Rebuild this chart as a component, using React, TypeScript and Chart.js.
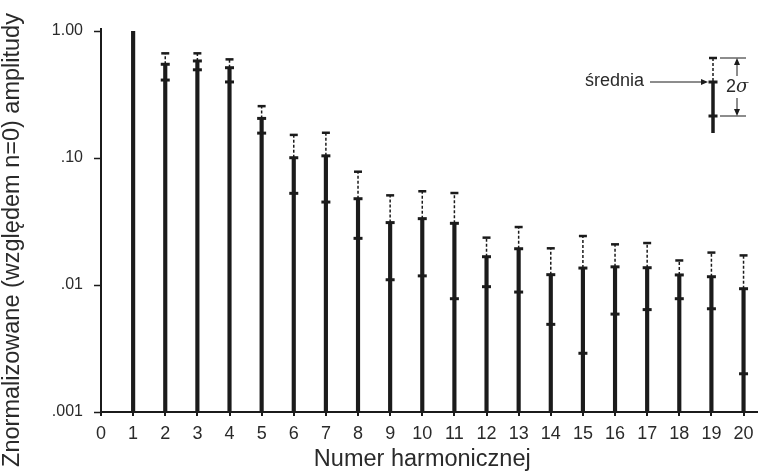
import React, { useEffect, useRef } from 'react';
import { Chart, registerables } from 'chart.js';

Chart.register(...registerables);

// ---- data ----
const harmonics = [1, 2, 3, 4, 5, 6, 7, 8, 9, 10, 11, 12, 13, 14, 15, 16, 17, 18, 19, 20];
const means = [1.0, 0.547, 0.581, 0.514, 0.205, 0.1005, 0.104, 0.0478, 0.031, 0.0333, 0.0306, 0.0167, 0.0193, 0.01206, 0.0136, 0.0139, 0.01368, 0.012, 0.01162, 0.00935];
const upper = [null, 0.667, 0.667, 0.598, 0.256, 0.152, 0.158, 0.078, 0.0508, 0.0547, 0.053, 0.0236, 0.0286, 0.01945, 0.0243, 0.0209, 0.0214, 0.0156, 0.018, 0.0171];
const lower = [null, 0.411, 0.495, 0.397, 0.157, 0.0527, 0.045, 0.0233, 0.011, 0.0118, 0.0078, 0.0097, 0.0088, 0.0049, 0.0029, 0.0059, 0.0064, 0.0078, 0.0065, 0.002];

const xTickValues = [0, 1, 2, 3, 4, 5, 6, 7, 8, 9, 10, 11, 12, 13, 14, 15, 16, 17, 18, 19, 20];
const yTickValues = [0.001, 0.01, 0.1, 1];
const yTickLabels = ['.001', '.01', '.10', '1.00'];

const xTitle = 'Numer harmonicznej';
const yTitle = 'Znormalizowane (względem n=0) amplitudy';
const legendMeanLabel = 'średnia';
const legendSigmaDigit = '2';
const legendSigmaSymbol = 'σ';

const INK = '#1b1b1b';
const TEXT = '#2a2a2a';
const FONT = "'Liberation Sans', Arial, Helvetica, sans-serif";

const withSigma = harmonics.map((h, i) => i).filter((i) => upper[i] != null);

const annotationPlugin = {
  id: 'annotations',
  afterDraw(chart: any) {
    const ctx = chart.ctx as CanvasRenderingContext2D;
    const xs = chart.scales.x;
    const ys = chart.scales.y;
    const area = chart.chartArea;
    ctx.save();

    // y axis line and tick marks
    ctx.strokeStyle = INK;
    ctx.lineWidth = 2;
    ctx.beginPath();
    ctx.moveTo(area.left, area.top - 3);
    ctx.lineTo(area.left, area.bottom);
    ctx.stroke();
    ctx.lineWidth = 1.5;
    ctx.beginPath();
    yTickValues.forEach((v) => {
      const py = Math.round(ys.getPixelForValue(v)) + 0.5;
      ctx.moveTo(area.left - 7, py);
      ctx.lineTo(area.left, py);
    });
    ctx.stroke();

    // axis titles
    ctx.fillStyle = TEXT;
    ctx.font = `23.5px ${FONT}`;
    ctx.textAlign = 'center';
    ctx.textBaseline = 'middle';
    const xMid = (xs.getPixelForValue(xTickValues[0]) + xs.getPixelForValue(xTickValues[xTickValues.length - 1])) / 2;
    ctx.fillText(xTitle, xMid, 460);
    ctx.save();
    ctx.translate(13, 240);
    ctx.rotate(-Math.PI / 2);
    ctx.fillText(yTitle, 0, 0);
    ctx.restore();

    // inset legend
    const bx = 713;
    const yTop = 58;
    const yMean = 82;
    const yLow = 116;
    const yEnd = 133;
    ctx.strokeStyle = INK;
    ctx.fillStyle = INK;
    ctx.lineWidth = 3.5;
    ctx.beginPath();
    ctx.moveTo(bx, yMean);
    ctx.lineTo(bx, yEnd);
    ctx.stroke();
    ctx.lineWidth = 1.5;
    ctx.setLineDash([3, 2]);
    ctx.beginPath();
    ctx.moveTo(bx, yTop);
    ctx.lineTo(bx, yMean);
    ctx.stroke();
    ctx.setLineDash([]);
    ctx.lineWidth = 2.5;
    ctx.beginPath();
    ctx.moveTo(bx - 4, yTop);
    ctx.lineTo(bx + 4, yTop);
    ctx.stroke();
    ctx.lineWidth = 3;
    ctx.beginPath();
    ctx.moveTo(bx - 4.5, yMean);
    ctx.lineTo(bx + 4.5, yMean);
    ctx.moveTo(bx - 4.5, yLow);
    ctx.lineTo(bx + 4.5, yLow);
    ctx.stroke();

    ctx.font = `18px ${FONT}`;
    ctx.fillStyle = TEXT;
    ctx.textAlign = 'right';
    ctx.textBaseline = 'middle';
    ctx.fillText(legendMeanLabel, 644, 81);
    ctx.strokeStyle = INK;
    ctx.fillStyle = INK;
    ctx.lineWidth = 1;
    ctx.beginPath();
    ctx.moveTo(650, yMean);
    ctx.lineTo(703, yMean);
    ctx.stroke();
    ctx.beginPath();
    ctx.moveTo(708, yMean);
    ctx.lineTo(701, yMean - 3);
    ctx.lineTo(701, yMean + 3);
    ctx.closePath();
    ctx.fill();

    const ax = 737;
    ctx.beginPath();
    ctx.moveTo(720, yTop);
    ctx.lineTo(746, yTop);
    ctx.moveTo(720, yLow);
    ctx.lineTo(746, yLow);
    ctx.moveTo(ax, yTop + 5);
    ctx.lineTo(ax, 76);
    ctx.moveTo(ax, 98);
    ctx.lineTo(ax, yLow - 5);
    ctx.stroke();
    ctx.beginPath();
    ctx.moveTo(ax, yTop);
    ctx.lineTo(ax - 3, yTop + 7);
    ctx.lineTo(ax + 3, yTop + 7);
    ctx.closePath();
    ctx.moveTo(ax, yLow);
    ctx.lineTo(ax - 3, yLow - 7);
    ctx.lineTo(ax + 3, yLow - 7);
    ctx.closePath();
    ctx.fill();

    ctx.fillStyle = TEXT;
    ctx.textAlign = 'left';
    ctx.font = `18px ${FONT}`;
    ctx.fillText(legendSigmaDigit, 726, 87);
    ctx.font = `italic 18px 'DejaVu Serif', serif`;
    ctx.fillText(legendSigmaSymbol, 736, 87);
    ctx.restore();
  },
};

export default function App() {
  const canvasRef = useRef<HTMLCanvasElement | null>(null);

  useEffect(() => {
    const canvas = canvasRef.current;
    if (!canvas) return;

    const barData = harmonics.map((h, i) => ({ x: h, y: means[i] }));
    const dashData: any[] = [];
    withSigma.forEach((i) => {
      dashData.push({ x: harmonics[i], y: means[i] });
      dashData.push({ x: harmonics[i], y: upper[i] });
      dashData.push({ x: harmonics[i], y: null });
    });
    const meanMarks = withSigma.map((i) => ({ x: harmonics[i], y: means[i] }));
    const lowMarks = withSigma.map((i) => ({ x: harmonics[i], y: lower[i] }));
    const capMarks = withSigma.map((i) => ({ x: harmonics[i], y: upper[i] }));

    const markStyle = {
      showLine: false,
      pointStyle: 'line',
      borderColor: INK,
      backgroundColor: INK,
      clip: false,
    };

    const chart = new Chart(canvas, {
      type: 'bar',
      data: {
        datasets: [
          {
            type: 'bar',
            data: barData,
            backgroundColor: INK,
            borderWidth: 0,
            barThickness: 3.5,
            grouped: false,
            order: 5,
          } as any,
          {
            type: 'line',
            data: dashData,
            borderColor: INK,
            borderWidth: 1.5,
            borderDash: [3, 2],
            pointRadius: 0,
            spanGaps: false,
            fill: false,
            order: 4,
          } as any,
          { type: 'scatter', data: meanMarks, ...markStyle, pointRadius: 4.5, borderWidth: 3, order: 1 } as any,
          { type: 'scatter', data: lowMarks, ...markStyle, pointRadius: 4.5, borderWidth: 3, order: 2 } as any,
          { type: 'scatter', data: capMarks, ...markStyle, pointRadius: 4, borderWidth: 2.5, order: 3 } as any,
        ],
      },
      options: {
        responsive: false,
        animation: false,
        events: [],
        layout: { autoPadding: false, padding: { top: 31, right: 0, bottom: 0, left: 0 } },
        plugins: {
          legend: { display: false },
          tooltip: { enabled: false },
        },
        scales: {
          x: {
            type: 'linear',
            offset: false,
            min: 0,
            max: 20.45,
            afterBuildTicks: (scale: any) => {
              scale.ticks = xTickValues.map((v) => ({ value: v }));
            },
            afterFit: (scale: any) => {
              scale.height = 60;
              scale.paddingRight = 0;
              scale.paddingLeft = 0;
            },
            border: { display: true, color: INK, width: 2 },
            grid: { offset: false, drawOnChartArea: false, drawTicks: true, tickLength: 4, color: INK, lineWidth: 2 },
            ticks: {
              autoSkip: false,
              maxRotation: 0,
              padding: 7,
              color: TEXT,
              font: { family: FONT, size: 18 },
              callback: (v: any) => String(v),
            },
            title: { display: false },
          },
          y: {
            type: 'logarithmic',
            offset: false,
            min: 0.001,
            max: 1,
            afterBuildTicks: (scale: any) => {
              scale.ticks = yTickValues.map((v) => ({ value: v }));
            },
            afterFit: (scale: any) => {
              scale.width = 101;
            },
            border: { display: false },
            grid: { display: false, drawTicks: true, tickLength: 8 },
            ticks: {
              autoSkip: false,
              padding: 10,
              color: TEXT,
              font: { family: FONT, size: 16 },
              callback: (v: any) => {
                const idx = yTickValues.findIndex((t) => Math.abs(t - Number(v)) < 1e-9);
                return idx >= 0 ? yTickLabels[idx] : '';
              },
            },
            title: { display: false },
          },
        },
      } as any,
      plugins: [annotationPlugin],
    });

    return () => chart.destroy();
  }, []);

  return (
    <div style={{ position: 'fixed', left: 0, top: 0, width: 758, height: 472, background: '#ffffff' }}>
      <canvas ref={canvasRef} width={758} height={472} style={{ display: 'block' }} />
    </div>
  );
}
